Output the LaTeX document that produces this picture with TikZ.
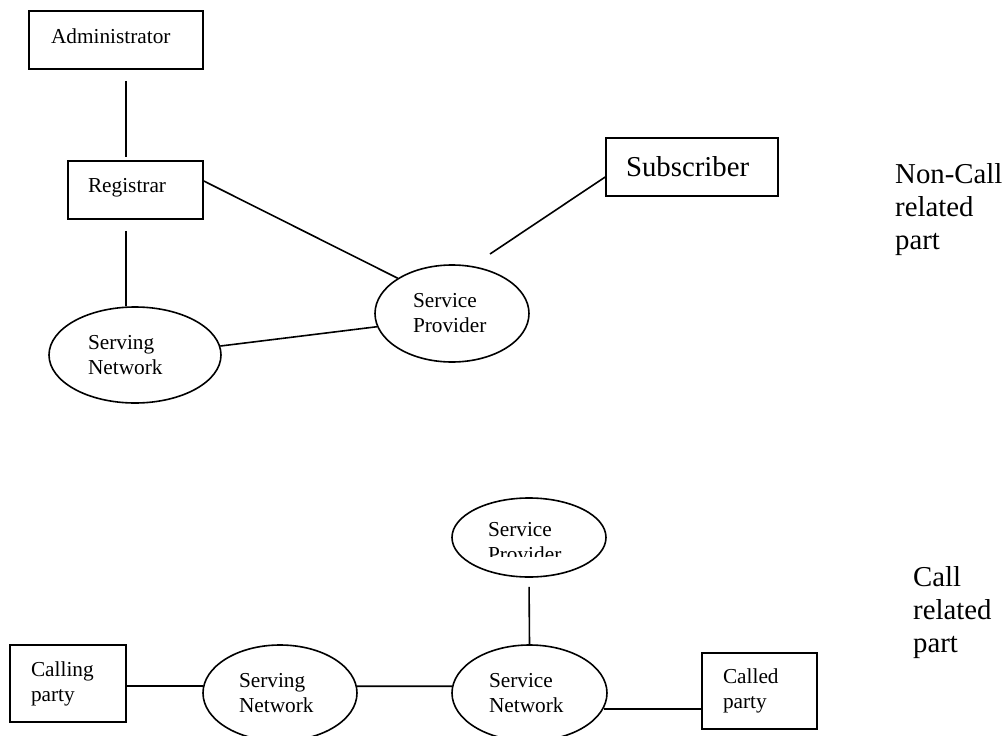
\documentclass[tikz,border=0pt]{standalone}
\usepackage{fontspec}
\setmainfont{Liberation Serif}
\usetikzlibrary{shapes.geometric}

\tikzset{
  link/.style={line width=1.6pt},
  smalltext/.style={font=\fontsize{21.3}{25}\selectfont},
  bigtext/.style={font=\fontsize{28.8}{33}\selectfont},
  entity/.style={draw, line width=1.6pt, rectangle, inner sep=0pt, align=left, smalltext},
  oval/.style={draw, line width=1.6pt, ellipse, inner sep=0pt, align=left, smalltext},
  part/.style={inner sep=0pt, align=left, bigtext, anchor=west},
}

\begin{document}
\begin{tikzpicture}[x=1pt,y=-1pt]
\clip (0,0) rectangle (1005,736);
\fill[white] (0,0) rectangle (1005,736);

% ---------------- non-call related part ----------------
\node[entity, text width=130pt, inner xsep=22pt, text height=32pt, text depth=26pt] (admin) at (116,40) {Administrator};
\node[entity, text width=95pt, inner xsep=20pt, text height=31pt, text depth=27pt] (reg) at (135.5,190) {Registrar};
\node[entity, bigtext, text width=132pt, inner xsep=20pt, text height=38pt, text depth=20pt] (sub) at (692,167) {Subscriber};
\node[oval, minimum width=172pt, minimum height=96pt, text width=94pt] (sn) at (135,355) {Serving\\Network};
\node[oval, minimum width=154pt, minimum height=97pt, text width=78pt] (sp) at (452,313.5) {Service\\Provider};
\coordinate (subend) at (490,254);

\draw[link, shorten <=11pt, shorten >=3pt] ([xshift=10pt]admin.south) -- ([xshift=-9.5pt]reg.north);
\draw[link, shorten <=11pt] ([xshift=-9.5pt]reg.south) -- ([xshift=-9pt]sn.north);
\draw[link] ([yshift=9pt]reg.east) -- (sp.147);
\draw[link] (sn.6) -- (sp.190);
\draw[link] (subend) -- ([yshift=-10pt]sub.west);

\node[part, text width=110pt] (ncr) at (895,209.3) {Non-Call\\related\\part};

% ---------------- call related part ----------------
\node[entity, minimum width=116pt, minimum height=77pt, text width=74pt] (calling) at (68,683.5) {Calling\\party};
\node[oval, minimum width=154pt, minimum height=96pt, text width=82pt] (bsn) at (280,693) {Serving\\Network};
\node[oval, minimum width=155pt, minimum height=96pt, text width=81pt] (bsvn) at (529.5,693) {Service\\Network};
\node[oval, minimum width=154pt, minimum height=79pt] (bsp) at (529,537.5) {};
\begin{scope}
  \clip (bsp.north west) rectangle ([yshift=-18.5pt]bsp.east);
  \node[smalltext, inner sep=0pt, text width=82pt, align=left] (bsptext) at ([yshift=-4.75pt]bsp.center) {Service\\Provider};
\end{scope}
\node[entity, minimum width=115pt, minimum height=76pt, text width=73pt] (called) at (759.5,691) {Called\\party};

\draw[link] (bsn.175 -| calling.east) -- (bsn.175);
\draw[link] (bsn.5) -- (bsvn.175);
\draw[link, shorten <=9pt] (bsp.south) -- (bsvn.north);
\draw[link] (bsvn.348) -- (bsvn.348 -| called.west);

\node[part, text width=85pt] (cr) at (913,612.3) {Call\\related\\part};
\end{tikzpicture}
\end{document}
